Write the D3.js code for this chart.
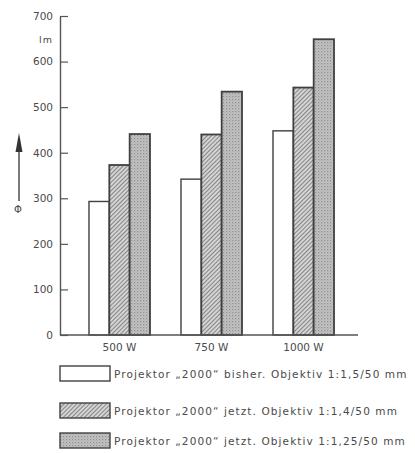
<!DOCTYPE html>
<html>
<head>
<meta charset="utf-8">
<script src="https://cdn.jsdelivr.net/npm/d3@7"></script>
<style>
  html, body { margin: 0; padding: 0; background: #fff; }
  svg { display: block; }
  text { font-family: "DejaVu Sans", sans-serif; fill: #4a4a4a; }
</style>
</head>
<body>
<svg id="chart" width="415" height="453"></svg>
<script>
// ---- data ----
const categories = ["500 W", "750 W", "1000 W"];
const seriesNames = [
  "Projektor \u201e2000\u201c bisher. Objektiv 1:1,5/50 mm",
  "Projektor \u201e2000\u201c jetzt. Objektiv 1:1,4/50 mm",
  "Projektor \u201e2000\u201c jetzt. Objektiv 1:1,25/50 mm"
];
const bisher15 = [293, 342, 448];
const jetzt14 = [373, 440, 543];
const jetzt125 = [441, 534, 649];
const yTicks = [0, 100, 200, 300, 400, 500, 600, 700];
const yUnit = "lm";
const yLabel = "\u03A6";

const seriesValues = [bisher15, jetzt14, jetzt125];
const fills = ["#ffffff", "url(#hatch)", "url(#stipple)"];

const svg = d3.select("#chart");
const defs = svg.append("defs");

// hatch pattern
const hp = defs.append("pattern").attr("id", "hatch")
  .attr("patternUnits", "userSpaceOnUse").attr("width", 3).attr("height", 3)
  .attr("patternTransform", "rotate(45)");
hp.append("rect").attr("width", 3).attr("height", 3).attr("fill", "#d4d4d4");
hp.append("line").attr("x1", 0.5).attr("y1", 0).attr("x2", 0.5).attr("y2", 3)
  .attr("stroke", "#858585").attr("stroke-width", 1);

// stipple pattern
const sp = defs.append("pattern").attr("id", "stipple")
  .attr("patternUnits", "userSpaceOnUse").attr("width", 3).attr("height", 3);
sp.append("rect").attr("width", 3).attr("height", 3).attr("fill", "#c2c2c2");
sp.append("rect").attr("x", 0).attr("y", 0).attr("width", 1.2).attr("height", 1.2).attr("fill", "#8e8e8e");
sp.append("rect").attr("x", 1.5).attr("y", 1.5).attr("width", 1).attr("height", 1).attr("fill", "#a2a2a2");

// scales
const y = d3.scaleLinear().domain([0, 700]).range([335, 16]);
const x0 = d3.scaleBand().domain(categories).range([60, 363])
  .paddingInner(0.337).paddingOuter(0.315);
const x1 = d3.scaleBand().domain(d3.range(seriesValues.length)).range([0, x0.bandwidth()]);

const axisX = 60;

// bars
const groups = svg.append("g").selectAll("g").data(categories).join("g")
  .attr("transform", d => `translate(${x0(d)},0)`);
groups.selectAll("rect")
  .data((c, ci) => seriesValues.map((s, si) => ({ si, v: s[ci] })))
  .join("rect")
  .attr("x", d => x1(d.si))
  .attr("y", d => y(d.v))
  .attr("width", x1.bandwidth())
  .attr("height", d => y(0) - y(d.v))
  .attr("fill", d => fills[d.si])
  .attr("stroke", "#404040")
  .attr("stroke-width", d => d.si === 0 ? 1.4 : 1.8);

// y axis
const yAxis = d3.axisLeft(y).tickValues(yTicks).tickSizeInner(-8).tickSizeOuter(0).tickPadding(7);
const ga = svg.append("g").attr("transform", `translate(${axisX},0)`).call(yAxis);
ga.select(".domain").attr("stroke", "#555").attr("stroke-width", 1.4);
ga.selectAll(".tick line").attr("stroke", "#555").attr("stroke-width", 1.2);
ga.selectAll(".tick text").attr("font-size", 10.5).attr("fill", "#4a4a4a")
  .attr("font-family", "DejaVu Sans");

// unit
svg.append("text").attr("x", axisX - 7).attr("y", (y(700) + y(600)) / 2 + 4)
  .attr("text-anchor", "end").attr("font-size", 9.5).attr("letter-spacing", 1).text(yUnit);

// baseline
svg.append("line").attr("x1", axisX).attr("x2", 358).attr("y1", y(0)).attr("y2", y(0))
  .attr("stroke", "#555").attr("stroke-width", 1.4);

// x labels
svg.append("g").selectAll("text").data(categories).join("text")
  .attr("x", d => x0(d) + x0.bandwidth() / 2)
  .attr("y", 351)
  .attr("text-anchor", "middle")
  .attr("font-size", 10.5)
  .text(d => d);

// arrow for phi
svg.append("line").attr("x1", 19).attr("x2", 19).attr("y1", 201).attr("y2", 148)
  .attr("stroke", "#444").attr("stroke-width", 1.4);
svg.append("path").attr("d", "M19,133 L15.5,152 L22.5,152 Z").attr("fill", "#333");
svg.append("text").attr("x", 18).attr("y", 213).attr("text-anchor", "middle")
  .attr("font-size", 10).text(yLabel);

// legend
const legendTops = [366, 403, 433];
const lg = svg.append("g").selectAll("g").data(seriesNames).join("g")
  .attr("transform", (d, i) => `translate(60,${legendTops[i]})`);
lg.append("rect").attr("x", 0).attr("y", 0).attr("width", 50).attr("height", 15)
  .attr("fill", (d, i) => fills[i]).attr("stroke", "#404040").attr("stroke-width", 1.4);
lg.append("text").attr("x", 54).attr("y", 12)
  .attr("font-size", 10.5).attr("letter-spacing", 1.1)
  .text(d => d);
</script>
</body>
</html>
